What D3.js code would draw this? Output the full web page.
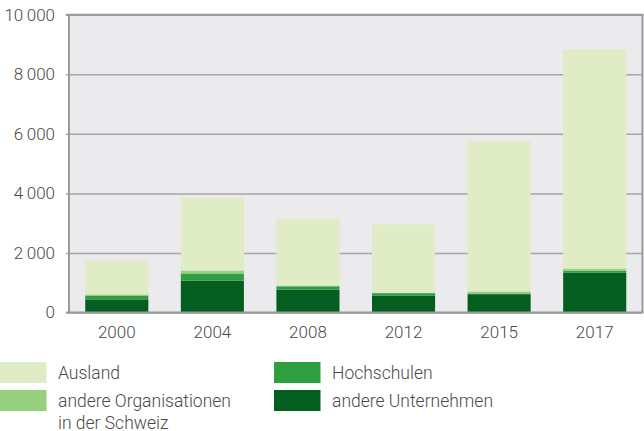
<!DOCTYPE html>
<html><head><meta charset="utf-8">
<script src="https://cdn.jsdelivr.net/npm/d3@7"></script>
<style>
body{margin:0;background:#fff;}
text{font-family:Roboto,"Noto Sans",sans-serif;font-weight:300;fill:#4a4a4a;}
</style></head>
<body><svg id="c" width="644" height="431"></svg>
<script>
const years = ["2000","2004","2008","2012","2015","2017"];
const andereUnternehmen = [440, 1070, 770, 570, 615, 1340];
const hochschulen = [130, 240, 110, 80, 25, 60];
const andereOrganisationen = [35, 100, 25, 10, 65, 75];
const ausland = [1140, 2450, 2250, 2295, 5035, 7350];
const yTicks = [0, 2000, 4000, 6000, 8000, 10000];
const seriesNames = ["andere Unternehmen","Hochschulen","andere Organisationen in der Schweiz","Ausland"];
const colors = ["#035e20","#2f9e41","#96cf7d","#e0ecc6"];

const svg = d3.select("#c");
const L = 69, R = 642.5, T = 14.7, B = 312.5;
const x = d3.scaleBand().domain(years).range([L, R]).paddingInner(0.34).paddingOuter(0.17);
const y = d3.scaleLinear().domain([0, 10000]).range([B, T]);

svg.append("rect").attr("x", L).attr("y", T).attr("width", R - L).attr("height", B - T).attr("fill", "#ebebed");

const fmt = v => d3.format(",")(v).replace(/,/g, "\u2009");
const ya = svg.append("g").attr("transform", `translate(${L},0)`)
  .call(d3.axisLeft(y).tickValues(yTicks).tickSize(-(R - L)).tickSizeOuter(0).tickPadding(14).tickFormat(fmt));
ya.select(".domain").remove();
ya.selectAll(".tick line").attr("stroke", "#a6a6a8").attr("stroke-width", 1.5).attr("x1", -3);
ya.selectAll(".tick text").attr("font-size", 17).attr("font-family", "Roboto").attr("font-weight", 300).attr("fill", "#4a4a4a");

const data = years.map((yr, i) => ({year: yr, s0: andereUnternehmen[i], s1: hochschulen[i], s2: andereOrganisationen[i], s3: ausland[i]}));
const stack = d3.stack().keys(["s0","s1","s2","s3"])(data);
svg.append("g").selectAll("g").data(stack).join("g").attr("fill", (d, i) => colors[i])
  .selectAll("rect").data(d => d).join("rect")
  .attr("x", d => x(d.data.year)).attr("width", x.bandwidth())
  .attr("y", d => y(d[1])).attr("height", d => y(d[0]) - y(d[1]));

svg.append("line").attr("x1", L).attr("x2", L).attr("y1", T).attr("y2", B).attr("stroke", "#9a9a9c").attr("stroke-width", 2);
svg.append("line").attr("x1", R).attr("x2", R).attr("y1", T).attr("y2", B).attr("stroke", "#9a9a9c").attr("stroke-width", 2);
svg.append("line").attr("x1", L - 3).attr("x2", R + 1).attr("y1", T).attr("y2", T).attr("stroke", "#9a9a9c").attr("stroke-width", 2);

const xa = svg.append("g").attr("transform", `translate(0,${B})`)
  .call(d3.axisBottom(x).tickSize(0).tickPadding(13));
xa.select(".domain").attr("d", `M${L-3},0H${R+1}`).attr("stroke", "#9a9a9c").attr("stroke-width", 2);
xa.selectAll(".tick text").attr("font-size", 17).attr("font-family", "Roboto").attr("font-weight", 300).attr("fill", "#4a4a4a");

const legend = [
  {name: ["Ausland"], c: colors[3], x: 0, y: 362},
  {name: ["andere Organisationen", "in der Schweiz"], c: colors[2], x: 0, y: 390},
  {name: ["Hochschulen"], c: colors[1], x: 274, y: 362},
  {name: ["andere Unternehmen"], c: colors[0], x: 274, y: 390}
];
const lg = svg.append("g").selectAll("g").data(legend).join("g").attr("transform", d => `translate(${d.x},${d.y})`);
lg.append("rect").attr("width", 46.5).attr("height", 21).attr("fill", d => d.c);
lg.append("text").attr("y", 17).attr("font-size", 17.5)
  .selectAll("tspan").data(d => d.name).join("tspan").attr("x", 58).attr("dy", (d, i) => i ? 21.5 : 0).text(d => d);
</script></body></html>
